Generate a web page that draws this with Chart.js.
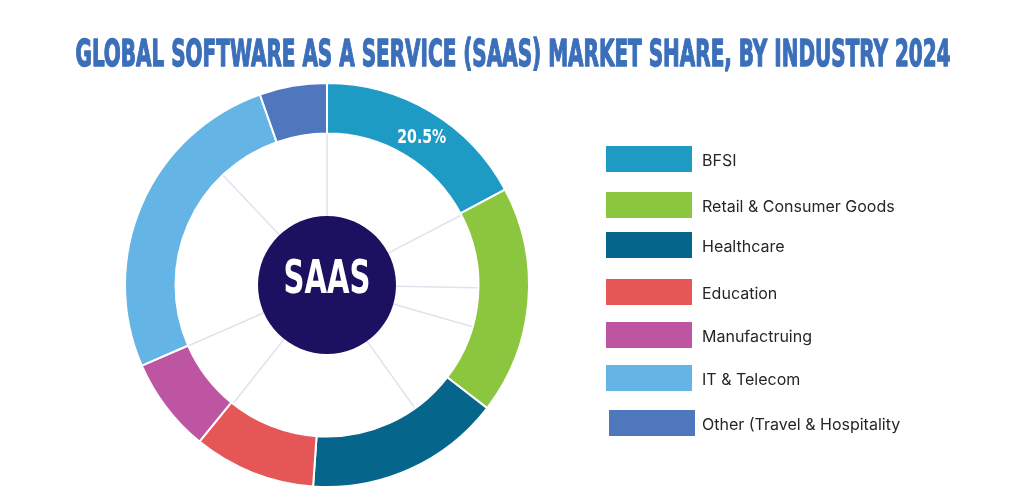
<!DOCTYPE html>
<html>
<head>
<meta charset="utf-8">
<script src="https://cdn.jsdelivr.net/npm/chart.js@4.4.1/dist/chart.umd.min.js"></script>
<style>
    html, body { margin: 0; padding: 0; background: #fff; }
    #wrap { width: 1024px; height: 498px; position: relative; }
</style>
</head>
<body>
<div id="wrap"><canvas id="myChart" width="1024" height="498"></canvas></div>
<script>
const chartTitle = 'GLOBAL SOFTWARE AS A SERVICE (SAAS) MARKET SHARE, BY INDUSTRY 2024';
const centerText = 'SAAS';
const industries = ['BFSI', 'Retail & Consumer Goods', 'Healthcare', 'Education', 'Manufactruing', 'IT & Telecom', 'Other (Travel & Hospitality'];
const shares = [17.2, 18.3, 15.7, 9.8, 7.6, 26.2, 5.4];
const shareLabels = ['20.5%', '', '', '', '', '', ''];
const sliceColors = ['#1e9bc5', '#8cc63f', '#05658b', '#e55656', '#bd55a2', '#64b4e5', '#4e77bd'];
// faint spokes drawn in the hole (degrees clockwise from top)
const spokeAngles = [0, 62.5, 91, 106, 144.5, 218.4, 246.3, 316.5];

const condensed = '"Liberation Sans Narrow", "DejaVu Sans Condensed", Roboto, sans-serif';

// draws text squeezed/stretched to a target width
function fitText(ctx, text, cx, baseline, width, font, color, stroke) {
    ctx.save();
    ctx.font = font;
    const w = ctx.measureText(text).width;
    ctx.translate(cx, baseline);
    ctx.scale(width / w, 1);
    ctx.fillStyle = color;
    ctx.textAlign = 'center';
    ctx.textBaseline = 'alphabetic';
    ctx.fillText(text, 0, 0);
    if (stroke) {
        ctx.strokeStyle = color;
        ctx.lineWidth = stroke;
        ctx.lineJoin = 'round';
        ctx.strokeText(text, 0, 0);
    }
    ctx.restore();
}

const decorPlugin = {
    id: 'decor',
    afterDatasetsDraw(chart) {
        const ctx = chart.ctx;
        const arcs = chart.getDatasetMeta(0).data;
        const cx = arcs[0].x;
        const cy = arcs[0].y;
        const inner = arcs[0].innerRadius;
        const hole = 69;

        ctx.save();
        ctx.strokeStyle = '#e2e2ef';
        ctx.lineWidth = 1.5;
        spokeAngles.forEach(a => {
            const rad = a * Math.PI / 180;
            ctx.beginPath();
            ctx.moveTo(cx + Math.sin(rad) * hole, cy - Math.cos(rad) * hole);
            ctx.lineTo(cx + Math.sin(rad) * (inner - 1), cy - Math.cos(rad) * (inner - 1));
            ctx.stroke();
        });

        ctx.fillStyle = '#1b1160';
        ctx.beginPath();
        ctx.arc(cx, cy, hole, 0, Math.PI * 2);
        ctx.fill();
        ctx.restore();

        fitText(ctx, centerText, cx, cy + 8, 87, 'bold 46px ' + condensed, '#ffffff');

        arcs.forEach((arc, i) => {
            if (!shareLabels[i]) return;
            const p = arc.tooltipPosition();
            fitText(ctx, shareLabels[i], p.x + 4, p.y + 10, 49, 'bold 19px ' + condensed, '#ffffff');
        });

        // title
        fitText(ctx, chartTitle, 513, 66, 875, 'bold 37px ' + condensed, '#3b6fba', 1.3);

        // legend
        const rowTops = [146, 192, 232, 279, 322, 365, 410];
        const boxX = [606, 606, 606, 606, 606, 606, 609];
        ctx.save();
        ctx.font = '16px Inter, "Open Sans", sans-serif';
        ctx.textBaseline = 'middle';
        industries.forEach((name, i) => {
            ctx.fillStyle = sliceColors[i];
            ctx.fillRect(boxX[i], rowTops[i], 86, 26);
            ctx.fillStyle = '#262626';
            ctx.fillText(name, 702, rowTops[i] + 15);
        });
        ctx.restore();
    }
};

const ctx = document.getElementById('myChart').getContext('2d');
const chart = new Chart(ctx, {
    type: 'doughnut',
    data: {
        labels: industries,
        datasets: [{
            data: shares,
            backgroundColor: sliceColors,
            borderColor: '#ffffff',
            borderWidth: 2
        }]
    },
    options: {
        responsive: false,
        animation: false,
        cutout: '75%',
        layout: {
            padding: { left: 124, right: 494, top: 82, bottom: 10 }
        },
        plugins: {
            legend: { display: false },
            title: { display: false },
            tooltip: { enabled: false }
        }
    },
    plugins: [decorPlugin]
});
</script>
</body>
</html>
